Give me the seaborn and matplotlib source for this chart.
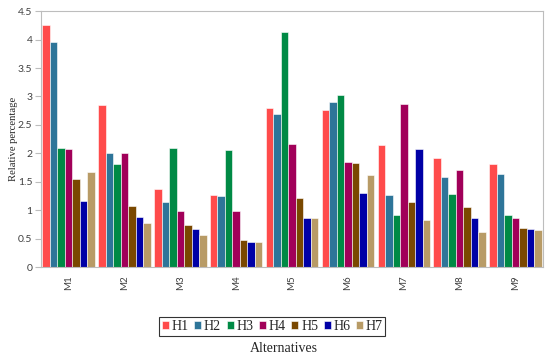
import pandas as pd
import matplotlib
matplotlib.use('Agg')
import matplotlib.pyplot as plt
from matplotlib.ticker import FixedLocator
import seaborn as sns

# data
ALTERNATIVES = ['M1', 'M2', 'M3', 'M4', 'M5', 'M6', 'M7', 'M8', 'M9']
SERIES = ['H1', 'H2', 'H3', 'H4', 'H5', 'H6', 'H7']
H1 = [4.25, 2.85, 1.37, 1.27, 2.79, 2.77, 2.14, 1.92, 1.81]
H2 = [3.95, 2.00, 1.15, 1.25, 2.69, 2.90, 1.27, 1.59, 1.63]
H3 = [2.10, 1.81, 2.09, 2.06, 4.13, 3.03, 0.91, 1.28, 0.92]
H4 = [2.08, 2.00, 0.98, 0.99, 2.17, 1.85, 2.86, 1.70, 0.87]
H5 = [1.55, 1.07, 0.74, 0.48, 1.22, 1.83, 1.15, 1.06, 0.68]
H6 = [1.17, 0.88, 0.67, 0.45, 0.87, 1.31, 2.08, 0.87, 0.67]
H7 = [1.67, 0.78, 0.57, 0.45, 0.87, 1.62, 0.83, 0.61, 0.66]

# styling
COLORS = ['#FF4B4B', '#2E7599', '#008A45', '#A10059', '#7A4800', '#0000A6', '#B89B66']
SERIF = ['Liberation Serif', 'DejaVu Serif']
SANS = ['Lato', 'DejaVu Sans']
AXIS_GRAY = '#BDBDBD'
TEXT_GRAY = '#404040'


def build_frame():
    rows = []
    for name, vals in zip(SERIES, [H1, H2, H3, H4, H5, H6, H7]):
        for alt, v in zip(ALTERNATIVES, vals):
            rows.append({'Alternative': alt, 'Series': name, 'Value': v})
    return pd.DataFrame(rows)


def main():
    df = build_frame()
    sns.set_style('white')

    fig = plt.figure(figsize=(5.5, 3.6), dpi=100)
    ax = fig.add_axes([0.074, 0.258, 0.914, 0.711])

    sns.barplot(data=df, x='Alternative', y='Value', hue='Series',
                palette=COLORS, saturation=1, width=0.94, gap=0, ax=ax,
                edgecolor='white', linewidth=0.4, legend=True)

    ax.set_ylim(0, 4.5)
    ax.set_xlim(-0.5, len(ALTERNATIVES) - 0.5)
    ax.set_yticks([0, 0.5, 1, 1.5, 2, 2.5, 3, 3.5, 4, 4.5])
    ax.set_yticklabels(['0', '0.5', '1', '1.5', '2', '2.5', '3', '3.5', '4', '4.5'],
                       family=SANS, fontsize=7.5, color=TEXT_GRAY)
    ax.set_xticks(range(len(ALTERNATIVES)))
    ax.set_xticklabels(ALTERNATIVES, rotation=90, family=SANS, fontsize=7, color=TEXT_GRAY)
    ax.xaxis.set_minor_locator(FixedLocator([i - 0.5 for i in range(len(ALTERNATIVES) + 1)]))
    ax.tick_params(axis='x', which='major', length=0, pad=6)
    ax.tick_params(axis='x', which='minor', length=4, color=AXIS_GRAY, width=0.8, direction='out')
    ax.tick_params(axis='y', length=4, color=AXIS_GRAY, width=0.8, direction='out', pad=2)
    ax.tick_params(axis='both', bottom=True, left=True)

    for side in ['top', 'right', 'left', 'bottom']:
        ax.spines[side].set_color(AXIS_GRAY)
        ax.spines[side].set_linewidth(0.8)

    ax.set_xlabel('')
    ax.set_ylabel('Relative percentage', family=SERIF, fontsize=7.7, labelpad=0)
    ax.grid(False)

    handles, labels = ax.get_legend_handles_labels()
    ax.legend_.remove()
    leg = fig.legend(handles, labels, loc='center', bbox_to_anchor=(0.495, 0.093),
                     ncol=7, frameon=True, fancybox=False, edgecolor='black',
                     prop={'family': SERIF, 'size': 10}, handlelength=0.5,
                     handleheight=0.5, handletextpad=0.2, columnspacing=0.4,
                     borderpad=0.2, borderaxespad=0)
    leg.get_frame().set_linewidth(0.8)

    fig.text(0.516, 0.033, 'Alternatives', family=SERIF, fontsize=10,
             ha='center', va='center')

    fig.savefig('out.png', dpi=100)


if __name__ == '__main__':
    main()
